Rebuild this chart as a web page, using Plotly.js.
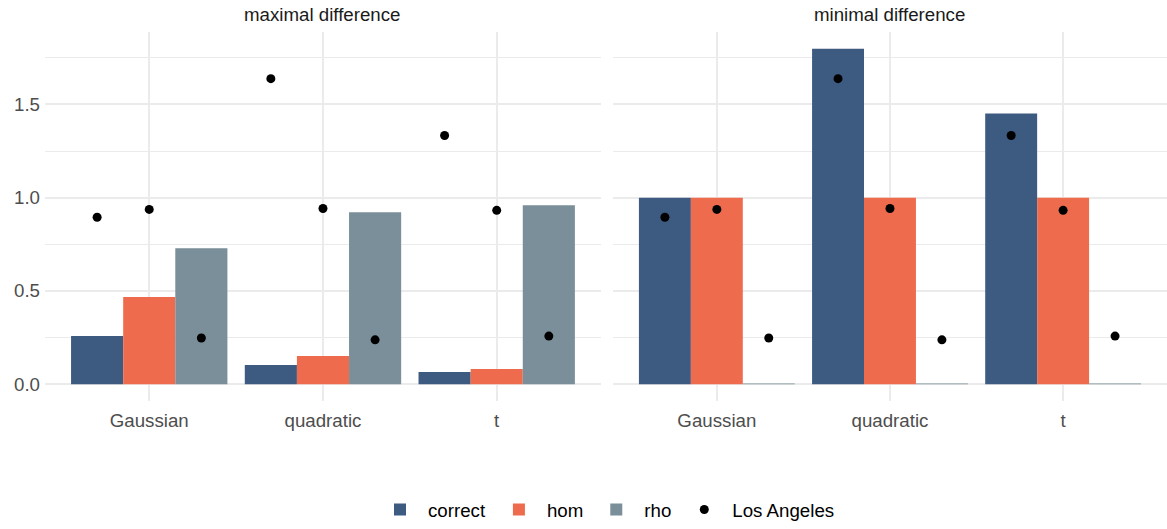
<!DOCTYPE html>
<html><head><meta charset="utf-8">
<script src="https://cdn.plot.ly/plotly-3.0.1.min.js"></script>
<style>html,body{margin:0;padding:0;background:#fff}</style>
</head><body><div id="chart" style="width:1167px;height:529px"></div>
<script>
const categories = ["Gaussian", "quadratic", "t"];
const panels = ["maximal difference", "minimal difference"];
const seriesNames = ["correct", "hom", "rho"];
const seriesColors = ["#3D5A80", "#EE6C4D", "#7A8F99"];
// maximal difference
const maxCorrect = [0.258, 0.103, 0.066];
const maxHom = [0.467, 0.151, 0.082];
const maxRho = [0.729, 0.922, 0.959];
// minimal difference
const minCorrect = [1.0, 1.798, 1.451];
const minHom = [1.0, 1.0, 1.0];
const minRho = [0.004, 0.004, 0.004];
// Los Angeles points (per series, per category)
const laCorrect = [0.895, 1.638, 1.333];
const laHom = [0.937, 0.942, 0.932];
const laRho = [0.248, 0.238, 0.258];

const panelData = [[maxCorrect, maxHom, maxRho], [minCorrect, minHom, minRho]];
const laData = [laCorrect, laHom, laRho];

const FONT = "Liberation Sans, Arial, sans-serif";
const traces = [];
panelData.forEach((series, p) => {
  const xa = p === 0 ? "x" : "x2";
  series.forEach((vals, i) => {
    traces.push({
      type: "bar", x: categories, y: vals, name: seriesNames[i],
      marker: {color: seriesColors[i], line: {width: 0}},
      xaxis: xa, yaxis: "y", offsetgroup: String(i), legendgroup: seriesNames[i],
      showlegend: p === 0, hoverinfo: "skip"
    });
  });
  laData.forEach((vals, i) => {
    traces.push({
      type: "scatter", mode: "markers", x: categories, y: vals, name: "Los Angeles",
      marker: {color: "#000", size: 9},
      xaxis: xa, yaxis: "y", offsetgroup: String(i), legendgroup: "la",
      showlegend: p === 0 && i === 0, hoverinfo: "skip"
    });
  });
});

const grid = "#EBEBEB";
const xaxisBase = {
  type: "category", range: [-0.6, 2.6], showgrid: true, gridcolor: grid, gridwidth: 1.8,
  zeroline: false, showline: false, ticks: "", ticklen: 0, ticklabelstandoff: 6,
  tickfont: {family: FONT, size: 18.7, color: "#4D4D4D"},
  fixedrange: true
};
const layout = {
  width: 1167, height: 529,
  margin: {l: 45, r: 0, t: 32, b: 128},
  paper_bgcolor: "#fff", plot_bgcolor: "#fff",
  barmode: "group", bargap: 0.1, bargroupgap: 0,
  scattermode: "group", scattergap: 0.1,
  font: {family: FONT},
  xaxis: Object.assign({}, xaxisBase, {domain: [0, 0.4955], anchor: "y"}),
  xaxis2: Object.assign({}, xaxisBase, {domain: [0.5062, 1], anchor: "y"}),
  yaxis: {
    range: [-0.0899, 1.888], tickvals: [0, 0.5, 1.0, 1.5], ticktext: ["0.0", "0.5", "1.0", "1.5"],
    showgrid: true, gridcolor: grid, gridwidth: 1.8, zeroline: false, showline: false,
    ticks: "", ticklabelstandoff: 4,
    tickfont: {family: FONT, size: 18.7, color: "#4D4D4D"},
    minor: {tickvals: [0.25, 0.75, 1.25, 1.75], showgrid: true, gridcolor: grid, gridwidth: 1, ticks: ""},
    fixedrange: true
  },
  showlegend: true,
  legend: {
    orientation: "h", x: 0.5, xanchor: "center", y: -0.295, yanchor: "middle",
    font: {family: FONT, size: 18.7, color: "#000"},
    itemwidth: 46, traceorder: "normal"
  },
  annotations: panels.map((t, p) => ({
    text: t, xref: p === 0 ? "x domain" : "x2 domain", yref: "paper",
    x: 0.5, y: 1, yshift: 18, xanchor: "center", yanchor: "middle", showarrow: false,
    font: {family: FONT, size: 18.7, color: "#1A1A1A"}
  }))
};
Plotly.newPlot("chart", traces, layout, {displayModeBar: false, staticPlot: true});
</script></body></html>
